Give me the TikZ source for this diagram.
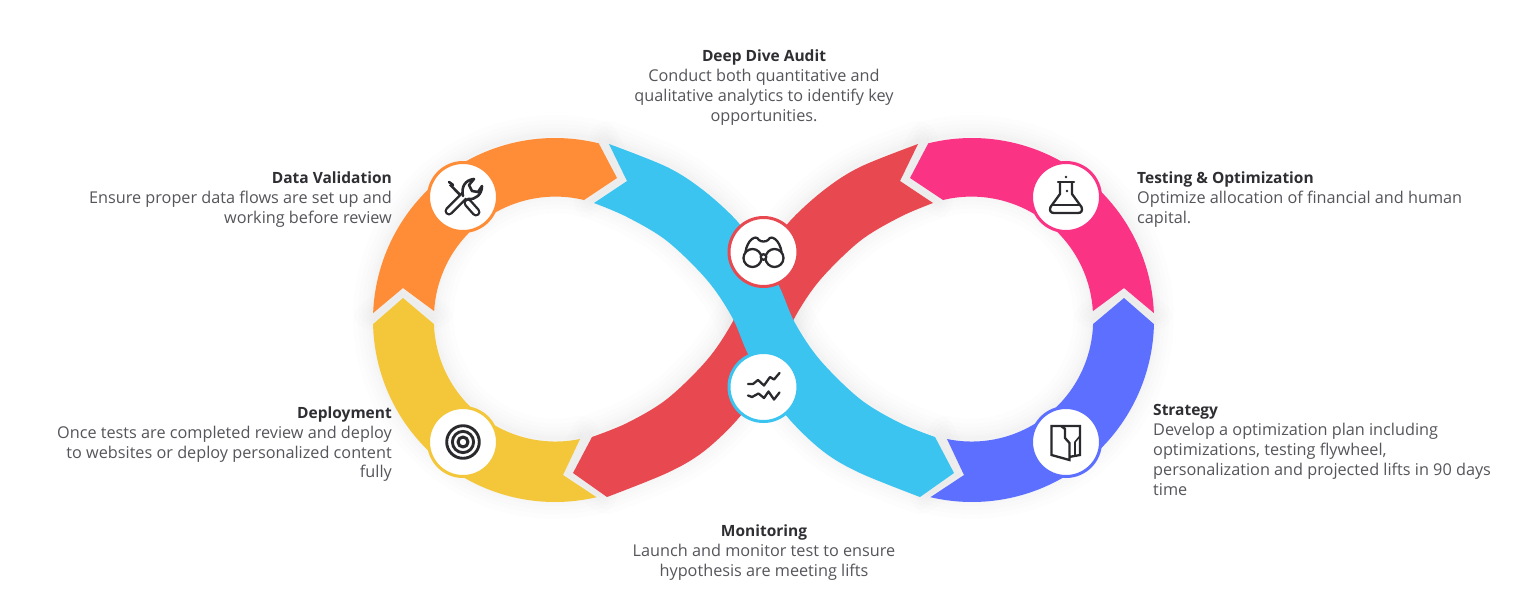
\documentclass[tikz,border=0pt]{standalone}
\usepackage{fontspec}
\setmainfont{Open Sans}
\definecolor{cOrange}{HTML}{FF8D38}
\definecolor{cYellow}{HTML}{F4C63A}
\definecolor{cRed}{HTML}{E8484F}
\definecolor{cBlue}{HTML}{3BC4EF}
\definecolor{cPurple}{HTML}{5C6FFF}
\definecolor{cPink}{HTML}{FB3385}
\definecolor{cTitle}{HTML}{2E2E33}
\definecolor{cBody}{HTML}{55555B}
\definecolor{cIcon}{HTML}{2A2A2E}
\tikzset{
  badge/.style={circle,fill=white,draw=#1,line width=3pt,minimum size=69pt,inner sep=0pt},
  ic/.style={draw=cIcon,line width=2.3pt,line cap=round,line join=round},
  txt/.style={inner sep=0pt,font=\fontsize{16.25}{19.8}\selectfont,text=cBody},
}
\newcommand{\ttl}[1]{{\fontsize{15.5}{19.8}\selectfont\bfseries\color{cTitle}#1}}
% paths in pixel coordinates (left half; the right half is their mirror image)
\def\pOrange{(555,320)+(182.2:182) arc[start angle=182.2,end angle=283.9,radius=182] -- (617,178) -- (584,200) arc[start angle=283.6,end angle=183.3,radius=121.5] -- (403,288) -- cycle}
\def\pYellow{(555,320)+(178.7:182) arc[start angle=178.7,end angle=76.8,radius=182] -- (563,475) -- (580,439) arc[start angle=78.3,end angle=178.1,radius=121.5] -- (403,298) -- cycle}
\def\pBlue{plot[smooth,tension=.55] coordinates {(609,144) (667,167) (703,190) (737,221) (762,255) (780,288) (795,323) (820,360) (860,399) (900,423) (935,437)} -- (954,473) -- (920,497) -- plot[smooth,tension=.55] coordinates {(920,497) (860,473) (824,452) (790,420) (765,385) (747,352) (732,317) (707,280) (667,241) (627,217) (594,203)} -- (627,181) -- cycle}
\newcommand{\halo}[1]{%
  \foreach \w/\o in {40/.007,30/.007,22/.009,14/.009,8/.009,4/.009}
    \draw[black,opacity=\o,line width=\w pt,line join=round,yshift=-3pt] #1;}
\begin{document}
\begin{tikzpicture}[x=1pt,y=1pt,yscale=-1]
\useasboundingbox (0,0) rectangle (1526,608);
\fill[white] (0,0) rectangle (1526,608);
% soft shadows
\halo{\pOrange}\halo{\pYellow}\halo{\pBlue}
\begin{scope}[shift={(1527,0)},xscale=-1]
\halo{\pOrange}\halo{\pYellow}\halo{\pBlue}
\end{scope}
% bands
\fill[cOrange] \pOrange;
\fill[cYellow] \pYellow;
\begin{scope}[shift={(1527,0)},xscale=-1]
\fill[cPink] \pOrange;
\fill[cPurple] \pYellow;
\fill[cRed] \pBlue;
\end{scope}
\fill[cBlue] \pBlue;
% badges
\node[badge=cOrange] (bWrench) at (463,197) {};
\node[badge=cYellow] (bTarget) at (463,442) {};
\node[badge=cPink] (bFlask) at (1066,197) {};
\node[badge=cPurple] (bDoor) at (1066,442) {};
\node[badge=cRed] (bBino) at (763.5,252) {};
\node[badge=cBlue] (bWave) at (763.5,387) {};
% wrench and screwdriver
\draw[ic,line cap=butt,line width=2.6pt] (450,184.5) -- (464,199);
\draw[ic,line width=9pt] (468,203) -- (476,212);
\draw[white,line width=4.2pt,line cap=round] (468,203) -- (476,212);
\draw[ic,line width=9pt] (449,211) -- (468,192);
\draw[white,line width=4.2pt,line cap=round] (449,211) -- (469,191);
\draw[ic,line width=2.6pt,fill=white] (463,196) .. controls (461,187) and (465,180) .. (474,179) -- (469,185) -- (472,191) -- (478,192) -- (482,186) .. controls (482,194) and (476,200) .. (468,199);
\draw[ic,line width=2.6pt] (449,182) -- (453,185);
% target
\draw[ic,line width=2.9pt] (bTarget) circle (16.3);
\draw[ic,line width=2.9pt] (bTarget) circle (10.6);
\draw[ic,line width=3.1pt] (bTarget) circle (5);
% flask
\draw[ic] (1058,182) -- (1074,182);
\draw[ic] (1060,182) -- (1060,194) -- (1050.5,207) .. controls (1049,211) and (1051,213) .. (1054,213) -- (1078,213) .. controls (1081,213) and (1083,211) .. (1081.5,207) -- (1072,194) -- (1072,182);
\draw[ic] (1053,205) -- (1079,205);
\fill[cIcon] (1066,177) circle (1.4);
\fill[cIcon] (1067,191) circle (1.4);
% door
\draw[ic,line cap=butt,line join=miter] (1069,457) -- (1080,455) -- (1080,426) -- (1051.5,426) -- (1051.5,455) -- (1069.5,460) -- (1069.5,443) -- (1065,438) -- (1065,429) -- (1061,426);
\draw[ic,line width=1.6pt,line cap=butt] (1080,436) -- (1075,442) -- (1075,456);
% binoculars
\draw[ic] (752.5,258) circle (9);
\draw[ic] (774.5,258) circle (9);
\draw[ic,fill=white] (763.5,257) circle (2.8);
\draw[ic] (745.5,252) .. controls (746,247) and (749,241) .. (752,239) .. controls (755,237) and (757,237) .. (759,240) .. controls (761,242) and (766,242) .. (768,240) .. controls (770,237) and (772,237) .. (775,239) .. controls (778,241) and (781,247) .. (781.5,252);
% waves
\draw[ic,line cap=round] (748,384) -- (753,384) -- (758,380) -- (764,385.5) -- (770,377) -- (774,379.5) -- (779.5,373);
\draw[ic,line cap=round] (748,395.5) -- (752,397) -- (758.5,393.5) -- (764,398) -- (768.5,391.5) -- (774,399.5) -- (779.5,392.5);
% labels
\node[txt,anchor=north,align=center] (tAudit) at (764,50) {\ttl{Deep Dive Audit}\\Conduct both quantitative and\\qualitative analytics to identify key\\opportunities.};
\node[txt,anchor=north east,align=right] (tData) at (392,171.5) {\ttl{Data Validation}\\Ensure proper data flows are set up and\\working before review};
\node[txt,anchor=north east,align=right] (tDeploy) at (392,406.5) {\ttl{Deployment}\\Once tests are completed review and deploy\\to websites or deploy personalized content\\fully};
\node[txt,anchor=north west,align=left] (tTest) at (1137,171.5) {\ttl{Testing \& Optimization}\\Optimize allocation of financial and human\\capital.};
\node[txt,anchor=north west,align=left] (tStrat) at (1153,404.5) {\ttl{Strategy}\\Develop a optimization plan including\\optimizations, testing flywheel,\\personalization and projected lifts in 90 days\\time};
\node[txt,anchor=north,align=center] (tMon) at (764,525) {\ttl{Monitoring}\\Launch and monitor test to ensure\\hypothesis are meeting lifts};
\end{tikzpicture}
\end{document}
